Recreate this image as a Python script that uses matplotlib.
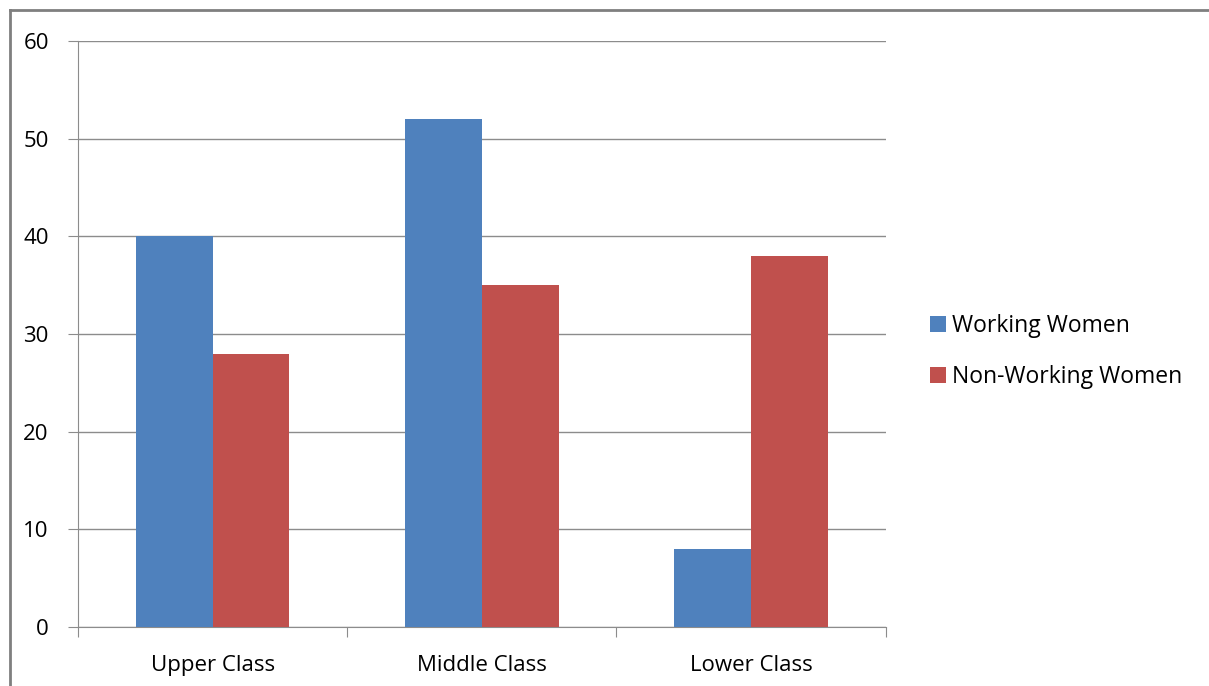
import matplotlib
matplotlib.use("Agg")
import matplotlib.pyplot as plt
from matplotlib.lines import Line2D
import numpy as np

categories = ["Upper Class", "Middle Class", "Lower Class"]
working = [40, 52, 8]
non_working = [28, 35, 38]
series_names = ["Working Women", "Non-Working Women"]

plt.rcParams['font.family'] = ['Open Sans', 'DejaVu Sans']

fig = plt.figure(figsize=(12.09, 6.86), dpi=100)
ax = fig.add_axes([0.0645, 0.086, 0.668, 0.854])

x = np.arange(len(categories))
w = 0.285
ax.bar(x - w / 2, working, w, color='#4F81BD', label=series_names[0], zorder=3)
ax.bar(x + w / 2, non_working, w, color='#C0504D', label=series_names[1], zorder=3)

ax.set_xlim(-0.5, 2.5)
ax.set_ylim(0, 60)
ax.set_yticks(range(0, 61, 10))
ax.yaxis.grid(True, color='#8c8c8c', linewidth=1)
ax.set_axisbelow(True)

ax.set_xticks([-0.5, 0.5, 1.5, 2.5])
ax.set_xticklabels([])
ax.set_xticks(x, minor=True)
ax.set_xticklabels(categories, minor=True)
ax.tick_params(axis='x', which='minor', length=0, pad=20, labelsize=16)
ax.tick_params(axis='x', which='major', length=7, color='#8c8c8c', direction='out')
ax.tick_params(axis='y', length=7, color='#8c8c8c', labelsize=16, pad=14)

for s in ['top', 'right']:
    ax.spines[s].set_visible(False)
for s in ['left', 'bottom']:
    ax.spines[s].set_color('#8c8c8c')

ax.legend(loc='center left', bbox_to_anchor=(1.03, 0.47), frameon=False,
          fontsize=16.5, handlelength=0.7, handleheight=0.7, handletextpad=0.25,
          labelspacing=1.2)

# outer chart border
fig.add_artist(Line2D([10 / 1209, 1], [1 - 10 / 686, 1 - 10 / 686], color='#7f7f7f', lw=2))
fig.add_artist(Line2D([10 / 1209, 10 / 1209], [0, 1 - 10 / 686], color='#7f7f7f', lw=2))

fig.savefig("out.png", dpi=100)
